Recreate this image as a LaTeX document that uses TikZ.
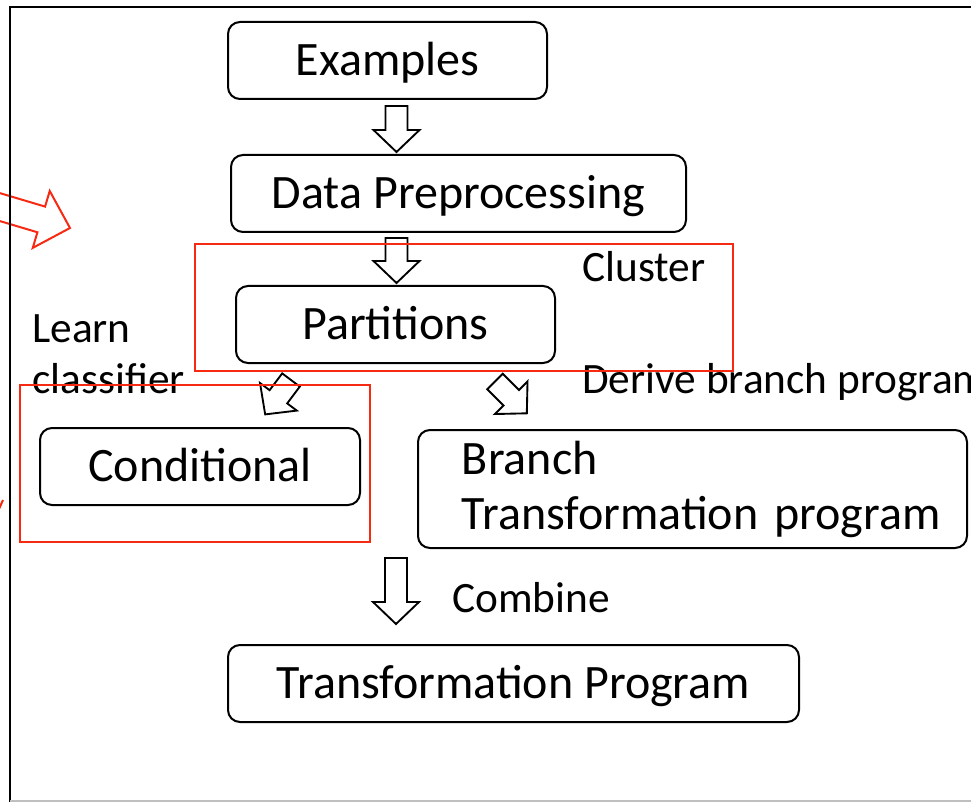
\documentclass[tikz,border=0pt]{standalone}
\usepackage{fontspec}
\setmainfont{Carlito}
\usetikzlibrary{calc}
\definecolor{markred}{RGB}{246,42,18}
\begin{document}
\begin{tikzpicture}[x=0.75pt,y=-0.75pt,
  box/.style={draw=black, line width=1.5pt, rounded corners=9pt, inner sep=0pt,
    fill=white, font=\fontsize{36}{41.25}\selectfont},
  onebox/.style={box, text height=26pt, text depth=4pt},
  lbl/.style={inner sep=0pt, font=\fontsize{32.5}{38}\selectfont},
  redframe/.style={draw=markred, line width=1.5pt},
  hollow/.style={draw=black, line width=1.4pt, fill=white, line join=miter},
  % hollow block arrow of length #1, pointing along the local x axis
  pics/barrow/.style={code={
    \draw[hollow] (0,-11) -- ({#1-22},-11) -- ({#1-22},-23) -- (#1,0)
      -- ({#1-22},23) -- ({#1-22},11) -- (0,11) -- cycle;}}
]
\useasboundingbox (0,0) rectangle (971,802);
\clip (0,0) rectangle (971,802);

% red pointer coming in from the left
\draw[markred, line width=1.5pt, line join=miter, shift={(70,228)}, rotate=-16.6]
  (0,0) -- (-30,-29.7) -- (-30,-13.4) -- (-160,-13.4) -- (-160,13.4)
  -- (-30,13.4) -- (-30,29.7) -- cycle;
\draw[markred, line width=1.5pt] (-1,509) -- (3,500);

% frame
\draw[black, line width=1.5pt] (10,802) -- (10,7.5) -- (971,7.5);
\draw[black!25, line width=1pt] (10,801) -- (971,801);

% steps
\node[onebox, minimum width=319*0.75pt, minimum height=77*0.75pt] (ex) at (387.5,60.5) {Examples};
\node[onebox, minimum width=455*0.75pt, minimum height=77*0.75pt] (dp) at (458.5,193.5) {Data Preprocessing};
\node[onebox, minimum width=319*0.75pt, minimum height=77*0.75pt] (pt) at (395.5,324.5) {Partitions};
\node[onebox, minimum width=320*0.75pt, minimum height=77*0.75pt] (cd) at (200,466.5) {Conditional};
\node[box, minimum height=118*0.75pt, inner xsep=24.5*0.75pt, text width=500*0.75pt, align=left]
  (br) at (692.5,489) {\hspace*{14.6pt}Branch\\\hspace*{14.6pt}Transformation program};
\node[onebox, minimum width=571*0.75pt, minimum height=77*0.75pt] (tp) at (513.5,683.5) {Transformation Program};

% block arrows between the steps
\pic[rotate=-90] at ($(ex.south)+(9,6)$) {barrow=46};
\pic[rotate=-90] at ($(pt.north)+(1,-47)$) {barrow=45};
\pic[rotate=-126.9] at ($(pt.south)+(-104.5,16)$) {barrow=43};
\pic[rotate=-45] at ($(pt.south)+(99.5,17.5)$) {barrow=45};
\pic[rotate=-90] at ($(tp.north)+(-117.5,-86)$) {barrow=66};

% step labels
\node[lbl, anchor=base west] (lcluster) at (582,282) {Cluster};
\node[lbl, anchor=base west] (llearn) at (32,343) {Learn};
\node[lbl, anchor=base west] (lclassifier) at (32,393) {classifier};
\node[lbl, anchor=base west] (lderive) at (582,393) {Derive branch program};
\node[lbl, anchor=base west] (lcombine) at (452,612) {Combine};

% highlight frames
\draw[redframe] (195,244) rectangle (733,371);
\draw[redframe] (19.5,385) rectangle (369.5,542);
\end{tikzpicture}
\end{document}
